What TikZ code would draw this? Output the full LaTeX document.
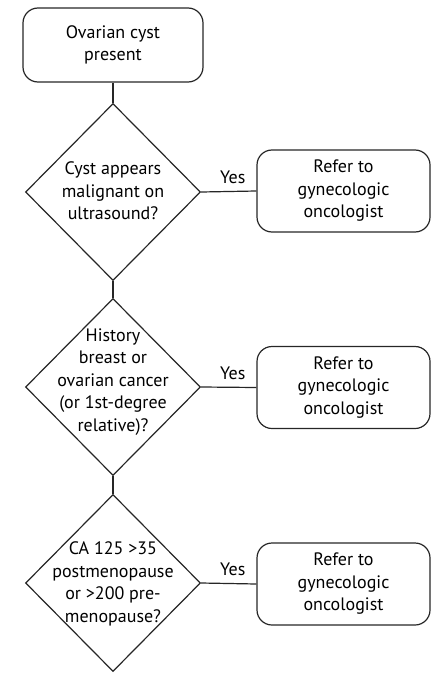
\documentclass[tikz,border=0pt]{standalone}
\usepackage{fontspec}
\setmainfont{PT Sans}
\usetikzlibrary{shapes.geometric}
\begin{document}
\begin{tikzpicture}[x=1pt,y=-1pt,
  ln/.style={draw=black!85,line width=1.2pt},
  rbox/.style={ln,rounded corners=15pt,minimum width=#1,inner sep=0pt},
  dia/.style={ln,diamond,minimum width=175pt,minimum height=177pt,inner sep=0pt},
  txt/.style={align=center,inner sep=0pt,font=\fontsize{18}{22.5}\selectfont},
  yes/.style={inner sep=0pt,font=\fontsize{18}{22}\selectfont}]
\useasboundingbox (0,0) rectangle (445,680);
\node[rbox=180pt,minimum height=74pt] (start) at (113,45) {};
\node[txt] (startt) at (start) {Ovarian cyst\\present};
\node[dia] (d1) at (113,192) {};
\node[txt] (d1t) at (113,191) {Cyst appears\\malignant on\\ultrasound?};
\node[dia] (d2) at (113,387) {};
\node[txt] (d2t) at (113,382) {History\\breast or\\ovarian cancer\\(or 1st-degree\\relative)?};
\node[dia] (d3) at (113,583) {};
\node[txt] (d3t) at (113,584) {CA 125 >35\\postmenopause\\or >200 pre-\\menopause?};
\node[rbox=173pt,minimum height=82pt] (r1) at (343.5,191) {};
\node[txt] (r1t) at (r1) {Refer to\\gynecologic\\oncologist};
\node[rbox=173pt,minimum height=82pt] (r2) at (343.5,387.5) {};
\node[txt] (r2t) at (r2) {Refer to\\gynecologic\\oncologist};
\node[rbox=173pt,minimum height=82pt] (r3) at (343.5,584) {};
\node[txt] (r3t) at (r3) {Refer to\\gynecologic\\oncologist};
\draw[ln] (start.south) -- (d1.north);
\draw[ln] (d1.south) -- (d2.north);
\draw[ln] (d2.south) -- (d3.north);
\draw[ln] (d1.east) -- (r1.west) node[yes,midway,above=7pt,xshift=4pt] (y1) {Yes};
\draw[ln] (d2.east) -- (r2.west) node[yes,midway,above=7pt,xshift=4pt] (y2) {Yes};
\draw[ln] (d3.east) -- (r3.west) node[yes,midway,above=7pt,xshift=4pt] (y3) {Yes};
\end{tikzpicture}
\end{document}
